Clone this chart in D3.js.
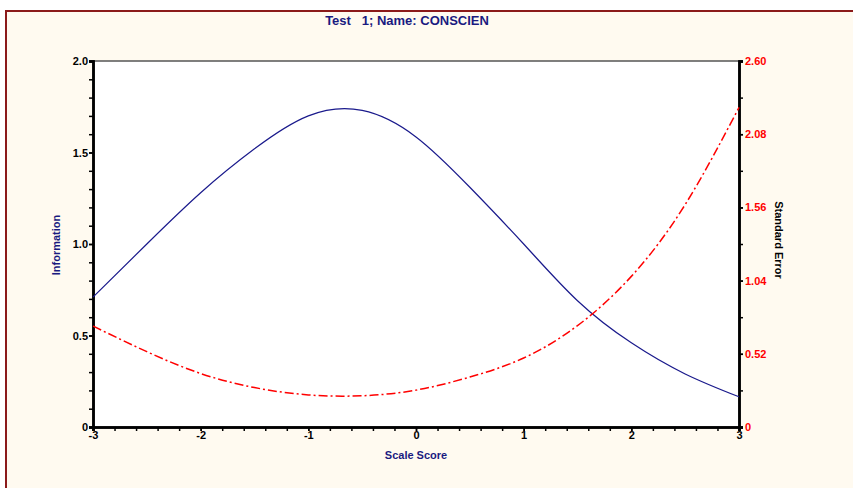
<!DOCTYPE html>
<html>
<head>
<meta charset="utf-8">
<script src="https://cdn.jsdelivr.net/npm/d3@7"></script>
<style>
  body { margin: 0; background: #fff; }
  svg { display: block; font-family: "Liberation Sans", Arial, sans-serif; }
</style>
</head>
<body>
<div id="chart"></div>
<script>
// values
var scores = [-3, -2.5, -2, -1.5, -1, -0.5, 0, 0.5, 1, 1.5, 2, 2.5, 3];
var information = [0.71, 1.0, 1.28, 1.52, 1.70, 1.73, 1.585, 1.31, 1.0, 0.69, 0.46, 0.29, 0.165];
var stdError = [0.717, 0.535, 0.38, 0.28, 0.228, 0.222, 0.262, 0.355, 0.49, 0.72, 1.07, 1.58, 2.27];
var xTicks = [-3, -2, -1, 0, 1, 2, 3];
var leftTicks = [0, 0.5, 1.0, 1.5, 2.0];
var rightTicks = [0, 0.52, 1.04, 1.56, 2.08, 2.60];

var width = 853, height = 488;
var pLeft = 93, pRight = 739, pTop = 61, pBottom = 427;

var svg = d3.select("#chart").append("svg")
    .attr("width", width)
    .attr("height", height)

// frame
svg.append("rect").attr("x", 6).attr("y", 11).attr("width", width).attr("height", height)
    .attr("fill", "#fffaf0").attr("stroke", "#8b1a1a").attr("stroke-width", 2)
svg.append("rect").attr("x", pLeft).attr("y", pTop).attr("width", pRight - pLeft).attr("height", pBottom - pTop)
    .attr("fill", "#fff")
svg.append("line").attr("x1", pLeft).attr("x2", pRight).attr("y1", pTop).attr("y2", pTop)
    .attr("stroke", "#555").attr("stroke-width", 1.5)

var x = d3.scaleLinear().domain([-3, 3]).range([pLeft, pRight]);
var yL = d3.scaleLinear().domain([0, 2]).range([pBottom, pTop]);
var yR = d3.scaleLinear().domain([0, 2.6]).range([pBottom, pTop]);

function styleAxis(g, color) {
  g.select(".domain").attr("stroke", "#000").attr("stroke-width", 2.5)
  g.selectAll(".tick line").attr("stroke", "#000").attr("stroke-width", 1.5)
  g.selectAll("text").attr("fill", color).style("font-weight", "bold").style("font-size", "11px")
}

// minor ticks
svg.append("g").attr("transform", "translate(" + pLeft + ",0)")
    .call(d3.axisLeft(yL).tickValues(d3.range(0, 2.001, 0.1)).tickSize(4).tickFormat(""))
    .call(function(g){ styleAxis(g, "#000") })
svg.append("g").attr("transform", "translate(0," + pBottom + ")")
    .call(d3.axisBottom(x).tickValues(d3.range(-3, 3.001, 0.2)).tickSize(4).tickFormat(""))
    .call(function(g){ styleAxis(g, "#000") })
svg.append("g").attr("transform", "translate(" + pRight + ",0)")
    .call(d3.axisRight(yR).tickValues(d3.range(0, 2.601, 0.26)).tickSize(4).tickFormat(""))
    .call(function(g){ styleAxis(g, "#000") })

// major ticks with labels
svg.append("g").attr("transform", "translate(" + pLeft + ",0)")
    .call(d3.axisLeft(yL).tickValues(leftTicks).tickSize(4).tickPadding(1)
      .tickFormat(function(d){ return d === 0 ? "0" : d.toFixed(1) }))
    .call(function(g){ styleAxis(g, "#000") })
svg.append("g").attr("transform", "translate(0," + pBottom + ")")
    .call(d3.axisBottom(x).tickValues(xTicks).tickSize(4).tickPadding(0)
      .tickFormat(function(d){ return String(d) }))
    .call(function(g){ styleAxis(g, "#000") })
svg.append("g").attr("transform", "translate(" + pRight + ",0)")
    .call(d3.axisRight(yR).tickValues(rightTicks).tickSize(4).tickPadding(2)
      .tickFormat(function(d){ return d === 0 ? "0" : d.toFixed(2) }))
    .call(function(g){ styleAxis(g, "#ff0000") })

// curves
var infoLine = d3.line().x(function(d, i){ return x(scores[i]) }).y(function(d){ return yL(d) })
    .curve(d3.curveNatural)
var seLine = d3.line().x(function(d, i){ return x(scores[i]) }).y(function(d){ return yR(d) })
    .curve(d3.curveNatural)

svg.append("path").datum(information).attr("d", infoLine)
    .attr("fill", "none").attr("stroke", "#1a1a8c").attr("stroke-width", 1.2)
svg.append("path").datum(stdError).attr("d", seLine)
    .attr("fill", "none").attr("stroke", "#ff0000").attr("stroke-width", 1.5)
    .attr("stroke-dasharray", "9,3,2,3")

// texts
svg.append("text").attr("x", 407).attr("y", 25).attr("text-anchor", "middle")
    .attr("fill", "#1a1a80").style("font-weight", "bold").style("font-size", "13px")
    .attr("xml:space", "preserve").text("Test   1; Name: CONSCIEN")
svg.append("text").attr("x", 416).attr("y", 459).attr("text-anchor", "middle")
    .attr("fill", "#1a1a80").style("font-weight", "bold").style("font-size", "11px")
    .text("Scale Score")
svg.append("text").attr("transform", "translate(60,245) rotate(-90)").attr("text-anchor", "middle")
    .attr("fill", "#1a1a80").style("font-weight", "bold").style("font-size", "11px")
    .text("Information")
svg.append("text").attr("transform", "translate(775,240) rotate(90)").attr("text-anchor", "middle")
    .attr("fill", "#000").style("font-weight", "bold").style("font-size", "11px")
    .text("Standard Error")
</script>
</body>
</html>
